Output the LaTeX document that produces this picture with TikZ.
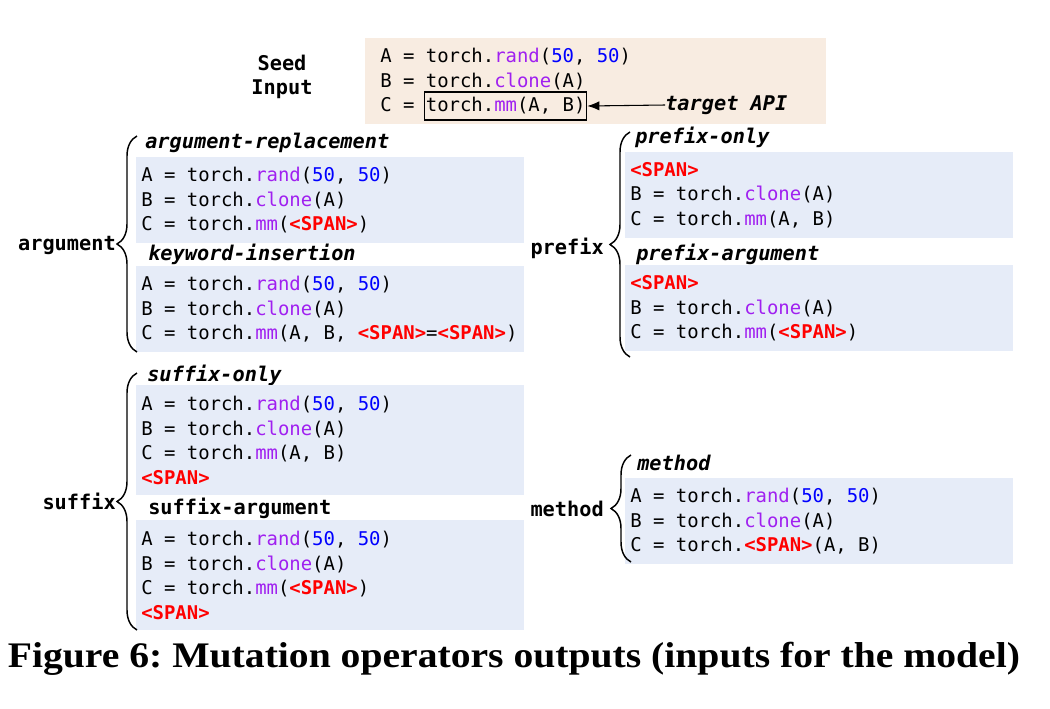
\documentclass[tikz,border=0pt]{standalone}
\usepackage{fontspec}
\setmainfont{Liberation Serif}
\setmonofont{DejaVu Sans Mono}
\usetikzlibrary{positioning,arrows.meta,decorations.pathreplacing}
\frenchspacing

\definecolor{seedbg}{HTML}{F8ECE1}
\definecolor{codebg}{HTML}{E6ECF8}
\definecolor{fncol}{HTML}{A020F0}
\definecolor{numcol}{HTML}{0000FF}
\definecolor{spancol}{HTML}{FF0000}

\newcommand{\fixsp}{\spaceskip=0.602em\relax\xspaceskip=0.602em\relax}
\newcommand{\fn}[1]{\textcolor{fncol}{#1}}
\newcommand{\nm}[1]{\textcolor{numcol}{#1}}
\newcommand{\spn}{\textcolor{spancol}{\bfseries <SPAN>}}

\begin{document}
\begin{tikzpicture}[x=0.75pt,y=-0.75pt]

\def \px{0.75pt}
\def \fsize{\ttfamily\fontsize{14.2}{18.4}\selectfont}
\def \tsize{\ttfamily\fontsize{15.2}{18.4}\selectfont}

\tikzstyle{mono} = [execute at begin node=\fixsp]
\tikzstyle{codebox} = [mono, fill=codebg, anchor=north west, inner xsep=5*\px, inner ysep=0pt, align=left, text width=378*\px, minimum height=86*\px, font=\fsize]
\tikzstyle{title} = [mono, anchor=west, inner sep=0pt, font=\tsize\bfseries\itshape]
\tikzstyle{group} = [mono, anchor=east, inner sep=0pt, font=\tsize\bfseries]
\tikzstyle{brace} = [decorate, decoration={brace, amplitude=15pt}, line width=1.1pt]

\def \lA{A = torch.\fn{rand}(\nm{50}, \nm{50})}
\def \lB{B = torch.\fn{clone}(A)}
\def \lC{C = torch.\fn{mm}(A, B)}

\useasboundingbox (0,0) rectangle (1050,708);

%Seed input
\node[mono, font=\tsize\bfseries, align=center] (seedlbl) at (282,77) {Seed\\Input};
\node[mono, fill=seedbg, anchor=north west, inner xsep=15*\px, inner ysep=0pt, align=left, text width=431*\px, minimum height=86*\px, font=\fsize] (seed) at (365,38)
  {\lA\\\lB\\C = \phantom{torch.mm(A, B)}};
\node[mono, draw, thick, anchor=west, inner xsep=1pt, minimum height=21pt, font=\fsize] (tgt) at (424,106) {torch.\fn{mm}(A, B)};
\node[title] (api) at (665,105) {target API};
\draw[thick,-{Latex[length=9pt,width=7pt]}] (api.west) -- (tgt.east);

%Argument operators
\node[title] (arepT) at (145,143) {argument-replacement};
\node[codebox] (arep) at (136,157) {\lA\\\lB\\C = torch.\fn{mm}(\spn)};
\node[title] (kinsT) at (148,254) {keyword-insertion};
\node[codebox] (kins) at (136,266) {\lA\\\lB\\C = torch.\fn{mm}(A, B, \spn=\spn)};
\draw[brace] (137,352) -- (137,136);
\node[group] (arg) at (116,245) {argument};

%Prefix operators
\node[title] (ponlyT) at (635,137) {prefix-only};
\node[codebox] (ponly) at (625,152) {\spn\\\lB\\\lC};
\node[title] (pargT) at (636,254) {prefix-argument};
\node[codebox] (parg) at (625,265) {\spn\\\lB\\C = torch.\fn{mm}(\spn)};
\draw[brace] (630,357) -- (630,132);
\node[group] (pre) at (604,248) {prefix};

%Suffix operators
\node[title] (sonlyT) at (147,375) {suffix-only};
\node[codebox, minimum height=110*\px] (sonly) at (136,385) {\lA\\\lB\\\lC\\\spn};
\node[title, font=\tsize\bfseries] (sargT) at (148,508) {suffix-argument};
\node[codebox, minimum height=110*\px] (sarg) at (136,520) {\lA\\\lB\\C = torch.\fn{mm}(\spn)\\\spn};
\draw[brace] (137,630) -- (137,373);
\node[group] (suf) at (116,501) {suffix};

%Method operator
\node[title] (methT) at (637,463) {method};
\node[codebox] (meth) at (625,478) {\lA\\\lB\\C = torch.\spn(A, B)};
\draw[brace] (631,562) -- (631,455);
\node[group] (met) at (604,509) {method};

%Caption
\node[anchor=base, inner sep=0pt] (cap) at (514,667)
  {\resizebox{759pt}{19pt}{\bfseries Figure 6: Mutation operators outputs (inputs for the model)}};

\end{tikzpicture}
\end{document}
